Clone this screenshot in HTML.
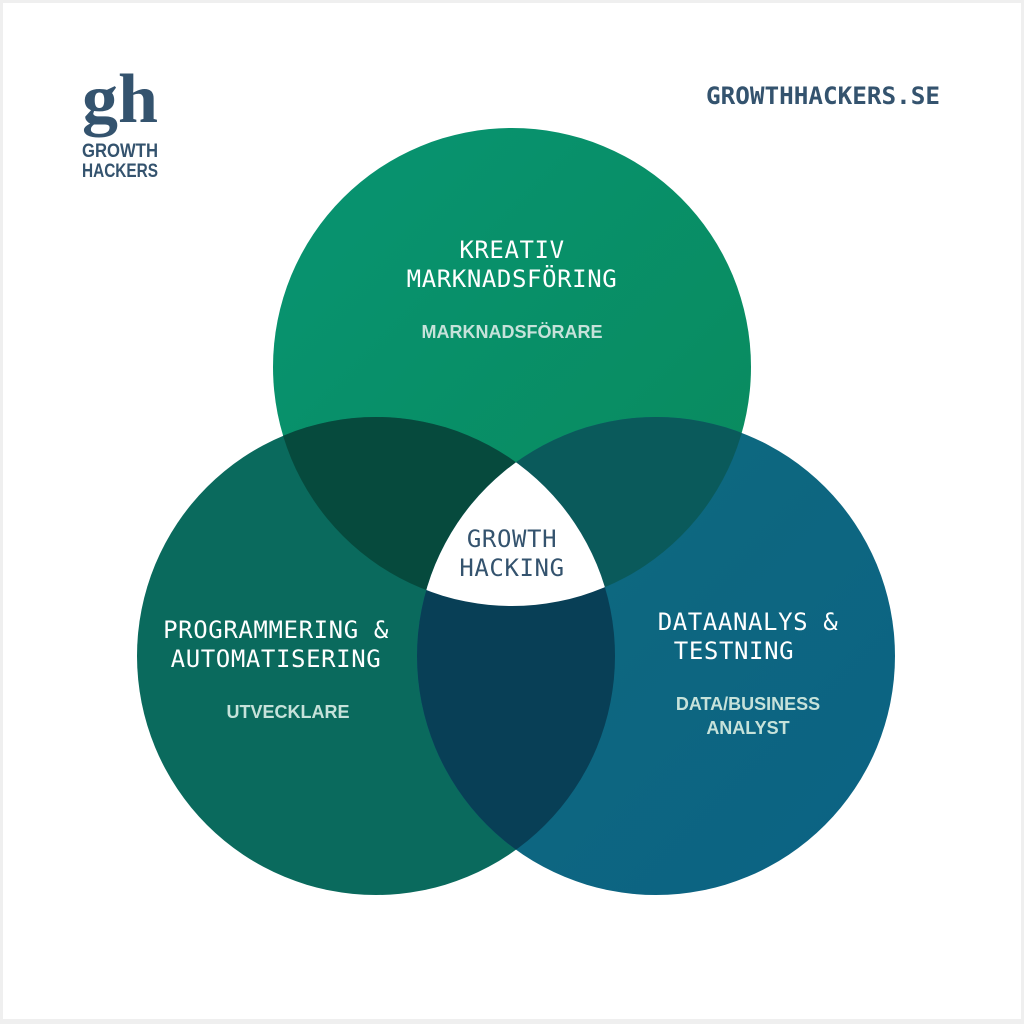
<!DOCTYPE html>
<html><head><meta charset="utf-8"><style>
html,body{margin:0;padding:0;background:#efefef}
svg{display:block}
.t{font-family:"DejaVu Sans Mono","Liberation Mono",monospace;font-size:24px;fill:#fff;text-anchor:middle;letter-spacing:0.6px}
.s{font-family:"Liberation Sans",sans-serif;font-weight:bold;font-size:18px;fill:#c6e2da;text-anchor:middle}
</style></head><body>
<svg width="1024" height="1024" viewBox="0 0 1024 1024" xmlns="http://www.w3.org/2000/svg">
<defs>
<clipPath id="cT"><circle cx="512" cy="367" r="239"/></clipPath>
<clipPath id="cL"><circle cx="376" cy="656" r="239"/></clipPath>
<clipPath id="cR"><circle cx="656" cy="656" r="239"/></clipPath>
<linearGradient id="gT" x1="0" y1="0" x2="1" y2="1"><stop offset="0" stop-color="#079472"/><stop offset="1" stop-color="#0a8a5c"/></linearGradient>
<linearGradient id="gR" x1="0" y1="0" x2="1" y2="1"><stop offset="0" stop-color="#0e6b7d"/><stop offset="1" stop-color="#0c6284"/></linearGradient>
</defs>
<rect x="3" y="3" width="1018" height="1016" fill="#fff"/>
<circle cx="512" cy="367" r="239" fill="url(#gT)"/>
<circle cx="376" cy="656" r="239" fill="#0a6a5d"/>
<circle cx="656" cy="656" r="239" fill="url(#gR)"/>
<g clip-path="url(#cT)"><circle cx="376" cy="656" r="239" fill="#064a3d"/><circle cx="656" cy="656" r="239" fill="#0a5a5b"/></g>
<g clip-path="url(#cL)"><circle cx="656" cy="656" r="239" fill="#083f56"/></g>
<g clip-path="url(#cT)"><g clip-path="url(#cL)"><circle cx="656" cy="656" r="239" fill="#fff"/></g></g>
<text x="82" y="122" font-family="Liberation Serif,serif" font-weight="bold" font-size="70" fill="#34536e" textLength="76" lengthAdjust="spacingAndGlyphs">gh</text>
<text x="82" y="157" font-family="Liberation Sans,sans-serif" font-weight="bold" font-size="19" fill="#34536e" textLength="76" lengthAdjust="spacingAndGlyphs">GROWTH</text>
<text x="82" y="177" font-family="Liberation Sans,sans-serif" font-weight="bold" font-size="19" fill="#34536e" textLength="76" lengthAdjust="spacingAndGlyphs">HACKERS</text>
<text x="706" y="104" font-family="DejaVu Sans Mono,monospace" font-size="24" fill="#34536e" font-weight="bold" textLength="234" lengthAdjust="spacingAndGlyphs">GROWTHHACKERS.SE</text>
<text class="t" x="512" y="258">KREATIV</text>
<text class="t" x="512" y="287">MARKNADSFÖRING</text>
<text class="s" x="512" y="338">MARKNADSFÖRARE</text>
<text class="t" x="512" y="547" style="fill:#34536e">GROWTH</text>
<text class="t" x="512" y="576" style="fill:#34536e">HACKING</text>
<text class="t" x="276" y="638">PROGRAMMERING &amp;</text>
<text class="t" x="276" y="667">AUTOMATISERING</text>
<text class="s" x="288" y="718">UTVECKLARE</text>
<text class="t" x="748" y="630">DATAANALYS &amp;</text>
<text class="t" x="734" y="659">TESTNING</text>
<text class="s" x="748" y="710">DATA/BUSINESS</text>
<text class="s" x="748" y="734">ANALYST</text>
</svg>
</body></html>
